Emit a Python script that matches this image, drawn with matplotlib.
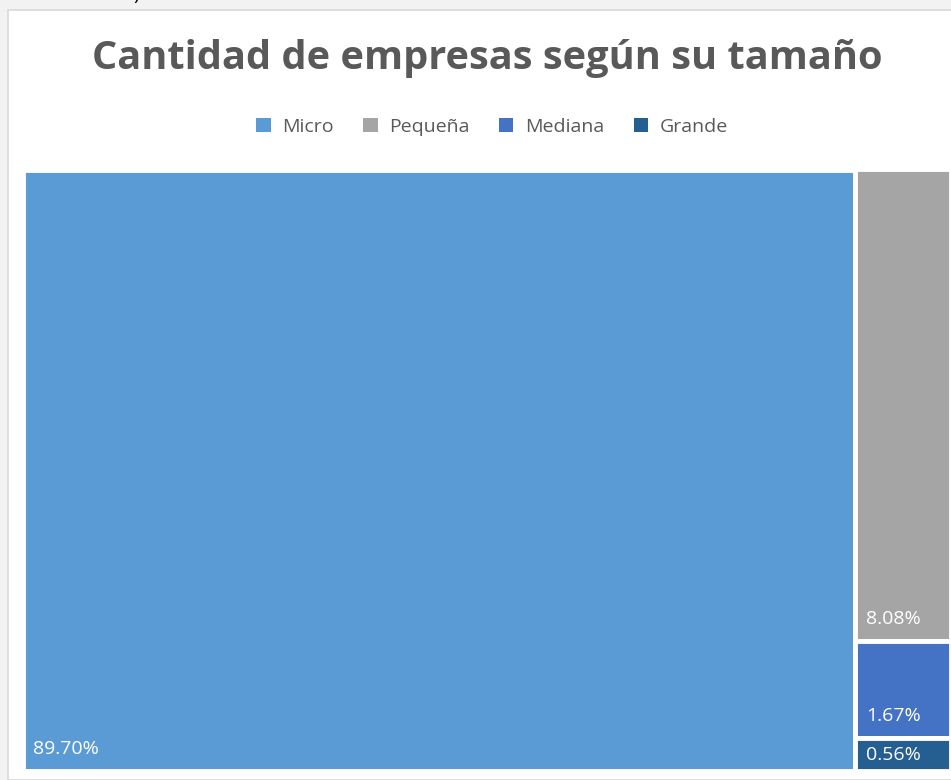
import matplotlib.pyplot as plt
from matplotlib.patches import Rectangle, Patch

plt.rcParams['font.family'] = ['Open Sans', 'DejaVu Sans']

categories = ["Micro", "Pequeña", "Mediana", "Grande"]
values = [89.70, 8.08, 1.67, 0.56]
colors = ["#5B9BD5", "#A5A5A5", "#4472C4", "#255E91"]
TEXT_COLR = "#595959"

W, H = 951, 780
fig = plt.figure(figsize=(W / 100, H / 100), dpi=100)
fig.patch.set_facecolor("#f2f2f2")

# white chart area (screenshot crop)
fig.patches.append(Rectangle((8 / W, 0), 1, 1 - 10 / H, transform=fig.transFigure,
                             facecolor="white", edgecolor="#d9d9d9", lw=1.2, zorder=-1))
fig.text(133 / W, 1 + 5 / H, ")", fontsize=14, color="black", va="center")

fig.text(487 / W, 1 - 58 / H, "Cantidad de empresas según su tamaño",
         fontsize=28.6, fontweight="bold", color=TEXT_COLR, ha="center", va="center")

handles = [Patch(facecolor=c, edgecolor="none") for c in colors]
fig.legend(handles, categories, loc="center", bbox_to_anchor=(492 / W, 1 - 127 / H),
           ncol=4, frameon=False, fontsize=14, labelcolor=TEXT_COLR,
           handlelength=0.75, handleheight=0.75, handletextpad=0.6, columnspacing=1.5)

# axes a bit larger than the visible blocks: white edges eat ~2.5 px on each side
ax = fig.add_axes([22.5 / W, 9.5 / H, 928 / W, 601 / H])
ax.set_xlim(0, 1)
ax.set_ylim(0, 1)
ax.axis("off")

# simple slice layout: first item as a column, the rest stacked in the remaining column
total = sum(values)
x0 = values[0] / total
rects = [(0, 0, x0, 1)]
rest = sum(values[1:])
top = 1.0
for v in values[1:]:
    h = v / rest
    rects.append((x0, top - h, 1 - x0, h))
    top -= h

px_x = 1 / 928
px_y = 1 / 601
for (x, y, w, h), c, v in zip(rects, colors, values):
    ax.add_patch(Rectangle((x, y), w, h, facecolor=c, edgecolor="white", lw=3.5))
    ty = y + 22 * px_y if h * 601 > 40 else y + h / 2 - 1 * px_y
    ax.text(x + 11 * px_x, ty, f"{v:.2f}%", color="white", fontsize=14,
            ha="left", va="center")

fig.savefig("out.png", dpi=100, facecolor=fig.get_facecolor())
